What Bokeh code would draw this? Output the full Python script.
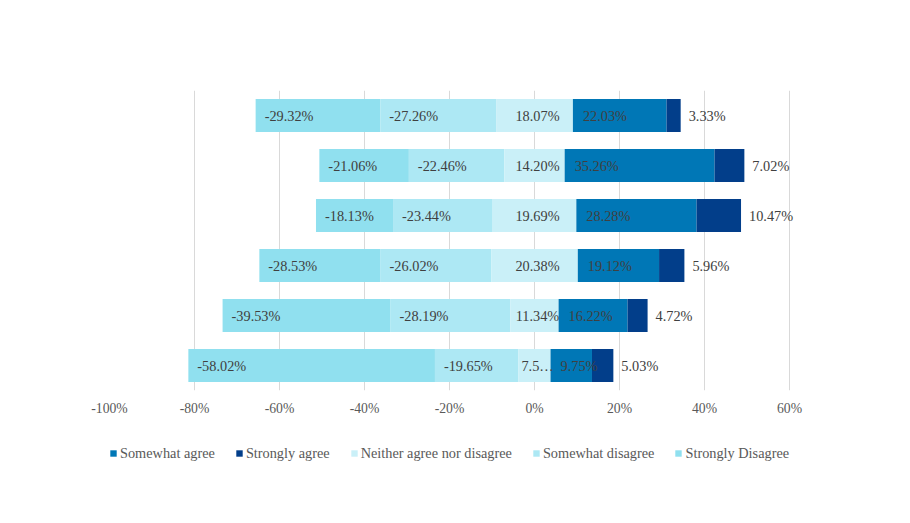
from bokeh.plotting import figure
from bokeh.layouts import column
from bokeh.models import ColumnDataSource, FactorRange, Range1d, FixedTicker, Legend, LegendItem
from bokeh.core.properties import value
from bokeh.embed import file_html
from bokeh.resources import INLINE

# ---------------- data ----------------
items = ["Item 1", "Item 2", "Item 3", "Item 4", "Item 5", "Item 6"]
strongly_disagree = [29.32, 21.06, 18.13, 28.53, 39.53, 58.02]
somewhat_disagree = [27.26, 22.46, 23.44, 26.02, 28.19, 19.65]
neither = [18.07, 14.20, 19.69, 20.38, 11.34, 7.55]
somewhat_agree = [22.03, 35.26, 28.28, 19.12, 16.22, 9.75]
strongly_agree = [3.33, 7.02, 10.47, 5.96, 4.72, 5.03]
x_ticks = [-100, -80, -60, -40, -20, 0, 20, 40, 60]
series_names = ["Somewhat agree", "Strongly agree", "Neither agree nor disagree",
                "Somewhat disagree", "Strongly Disagree"]

colors = {
    "Somewhat agree": "#0077B6",
    "Strongly agree": "#023E8A",
    "Neither agree nor disagree": "#CAF0F8",
    "Somewhat disagree": "#ADE8F4",
    "Strongly Disagree": "#90E0EF",
}

FONT = "Liberation Serif"
LABEL_PX = 14.3
LABEL_SIZE = f"{LABEL_PX}px"
LABEL_COLOR = "#404040"
PX_PER_UNIT = 4.25

# ---------------- geometry from data ----------------
half = [n / 2 for n in neither]
sd_l = [-h - w - d for h, w, d in zip(half, somewhat_disagree, strongly_disagree)]
sd_r = [-h - w for h, w in zip(half, somewhat_disagree)]
sw_l = sd_r
sw_r = [-h for h in half]
ne_l = sw_r
ne_r = half
sa_l = half
sa_r = [h + a for h, a in zip(half, somewhat_agree)]
st_l = sa_r
st_r = [r + s for r, s in zip(sa_r, strongly_agree)]

def fmt(v, neg=False):
    return ("-" if neg else "") + f"{v:.2f}%"

def text_width(s):
    w = {".": 0.25, "%": 0.833, "-": 0.333}
    return sum(w.get(c, 0.5) for c in s) * LABEL_PX

def neither_label(v):
    s = fmt(v)
    # truncate like the original when segment too narrow for its text
    if v * PX_PER_UNIT < text_width(s):
        return s[:3] + "\u2026"
    return s

p = figure(width=890, height=420,
           x_range=Range1d(-100, 72),
           y_range=FactorRange(*reversed(items), range_padding=0),
           output_backend="svg", toolbar_location=None,
           min_border_left=109, min_border_right=50,
           min_border_top=90, min_border_bottom=30)
p.outline_line_color = None
p.background_fill_color = "white"
p.border_fill_color = "white"

segs = [
    ("Strongly Disagree", sd_l, sd_r),
    ("Somewhat disagree", sw_l, sw_r),
    ("Neither agree nor disagree", ne_l, ne_r),
    ("Somewhat agree", sa_l, sa_r),
    ("Strongly agree", st_l, st_r),
]
for name, l, r in segs:
    src = ColumnDataSource(dict(y=items, left=l, right=r))
    p.hbar(y="y", left="left", right="right", height=0.66,
           source=src, fill_color=colors[name], line_color=None)

def add_labels(xs, texts, x_offset, align):
    src = ColumnDataSource(dict(x=xs, y=items, t=texts))
    p.text(x="x", y="y", text="t", source=src, x_offset=x_offset,
           text_align=align, text_baseline="middle",
           text_font=value(FONT), text_font_size=LABEL_SIZE, text_color=LABEL_COLOR)

add_labels(sd_l, [fmt(v, True) for v in strongly_disagree], 9, "left")
add_labels(sw_l, [fmt(v, True) for v in somewhat_disagree], 9, "left")
add_labels([0] * len(items), [neither_label(v) for v in neither], 3, "center")
add_labels(sa_l, [fmt(v) for v in somewhat_agree], 10, "left")
add_labels(st_r, [fmt(v) for v in strongly_agree], 8, "left")

# axes and grid
p.yaxis.visible = False
p.ygrid.visible = False
p.xgrid.ticker = FixedTicker(ticks=x_ticks)
p.xgrid.grid_line_color = "#D9D9D9"
p.xaxis.ticker = FixedTicker(ticks=x_ticks)
p.xaxis.major_label_overrides = {t: f"{t}%" for t in x_ticks}
p.xaxis.axis_line_color = None
p.xaxis.major_tick_line_color = None
p.xaxis.minor_tick_line_color = None
p.xaxis.major_label_standoff = 4
p.xaxis.major_label_text_font = FONT
p.xaxis.major_label_text_font_size = "13.7px"
p.xaxis.major_label_text_color = "#595959"

# ---------------- legend strip (frame aligned with the chart above) ----------------
pl = figure(width=890, height=60, x_range=Range1d(0, 1), y_range=Range1d(0, 1),
            output_backend="svg", toolbar_location=None,
            x_axis_location=None, y_axis_location=None,
            min_border_left=109, min_border_right=50, min_border_top=0, min_border_bottom=0)
pl.outline_line_color = None
pl.xgrid.visible = False
pl.ygrid.visible = False
leg_items = []
for n in series_names:
    # zero-size proxy bar: draws nothing, only provides the legend swatch style
    proxy = ColumnDataSource(dict(y=[0], left=[0], right=[0]))
    r = pl.hbar(y="y", left="left", right="right", height=0, source=proxy,
                fill_color=colors[n], line_color=None)
    leg_items.append(LegendItem(label=n, renderers=[r]))

legend = Legend(items=leg_items, orientation="horizontal", location=(0, 17),
                glyph_width=8, glyph_height=8, label_standoff=3, spacing=20,
                padding=0, margin=0, border_line_color=None, background_fill_alpha=0,
                label_text_font=FONT, label_text_font_size="14.3px",
                label_text_color="#595959", label_height=20)
pl.add_layout(legend, "center")

layout = column(p, pl, spacing=0)
open("out.html", "w").write(file_html(layout, INLINE))
